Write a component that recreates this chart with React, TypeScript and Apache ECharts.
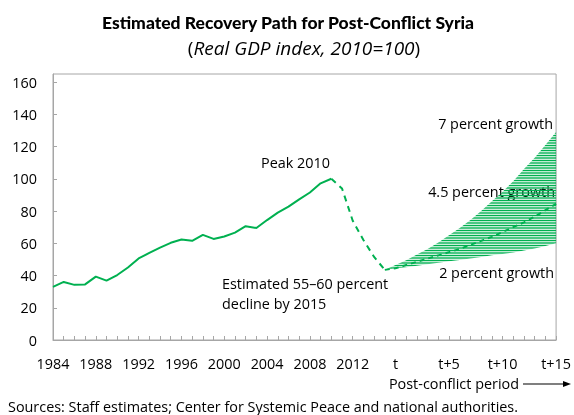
import React, { useEffect, useRef } from "react";
import * as echarts from "echarts";

const histYears: string[] = [];
for (let y = 1984; y <= 2015; y++) histYears.push(String(y));
const postLabels = ["t", "t+1", "t+2", "t+3", "t+4", "t+5", "t+6", "t+7", "t+8", "t+9", "t+10", "t+11", "t+12", "t+13", "t+14", "t+15"];
const categories = [...histYears, ...postLabels];
const shownLabels = ["1984", "1988", "1992", "1996", "2000", "2004", "2008", "2012", "t", "t+5", "t+10", "t+15"];

// Real GDP index, 1984–2010 (actual)
const historical = [33, 36, 34.2, 34.5, 39.3, 36.8, 40.3, 45, 50.6, 54, 57.3, 60.3, 62.3, 61.5, 65.2, 62.7, 64.2, 66.6, 70.6, 69.5, 74.4, 79, 82.7, 87.2, 91.5, 97.2, 100];
// Estimated decline, 2010–2015
const decline = [100, 94, 74, 62, 51.5, 43.5];
// Recovery scenarios, 2015 .. t+15
const growth2 = [43.5, 44.3, 45.2, 46.1, 47, 47.9, 48.8, 49.6, 50.5, 51.5, 52.5, 53.4, 54.3, 55.5, 56.8, 58.3, 60];
const growth45 = [43.5, 44.5, 46.5, 48.5, 50.5, 52.5, 54.5, 56.5, 59, 61.5, 64, 67, 70, 73, 76.5, 80.5, 84.5];
const growth7 = [43.5, 46.5, 49.5, 53, 56.5, 60.5, 65, 69.5, 74.5, 80, 86, 92, 98.5, 106, 113, 121, 129];

const GREEN = "#00b050";
const FONT = "'Open Sans', 'Noto Sans', sans-serif";
const TITLE_FONT = "Lato, 'Open Sans', sans-serif";
const FS = 14.4;

function pad(values: number[], start: number): (number | null)[] {
  const out: (number | null)[] = categories.map(() => null);
  values.forEach((v, i) => (out[start + i] = v));
  return out;
}

const patternSvg =
  "<svg xmlns='http://www.w3.org/2000/svg' width='4' height='5'>" +
  "<rect x='0' y='0' width='4' height='1' fill='#00b050'/>" +
  "<rect x='0' y='1' width='4' height='1' fill='#00b050' fill-opacity='0.25'/>" +
  "<rect x='0' y='2' width='4' height='1' fill='#00b050' fill-opacity='0.7'/>" +
  "<rect x='0' y='3' width='4' height='1' fill='#00b050' fill-opacity='0.7'/>" +
  "<rect x='0' y='4' width='4' height='1' fill='#00b050' fill-opacity='0.2'/>" +
  "</svg>";
const patternUrl = "data:image/svg+xml;charset=utf-8," + encodeURIComponent(patternSvg);

function label(text: string, x: number, y: number, align: string = "left") {
  return {
    type: "text", x, y,
    style: { text, fontSize: FS, fontFamily: FONT, fill: "#000", align, verticalAlign: "middle" },
  };
}

export default function App() {
  const ref = useRef<HTMLDivElement>(null);
  useEffect(() => {
    if (!ref.current) return;
    const chart = echarts.init(ref.current, null, { renderer: "svg" });
    const projStart = histYears.indexOf("2015");
    const bandDiff = growth7.map((v, i) => +(v - growth2[i]).toFixed(2));
    chart.setOption({
      animation: false,
      textStyle: { fontFamily: FONT },
      grid: {
        left: 53, right: 16, top: 74, bottom: 75,
        show: true, borderColor: "#a6a6a6", borderWidth: 1, backgroundColor: "transparent",
      },
      xAxis: {
        type: "category",
        data: categories,
        boundaryGap: false,
        axisLine: { lineStyle: { color: "#a6a6a6" } },
        axisTick: { inside: true, length: 4, interval: 0, lineStyle: { color: "#a6a6a6" } },
        axisLabel: {
          interval: (_i: number, v: string) => shownLabels.includes(v),
          color: "#000", fontSize: FS, fontFamily: FONT, margin: 16,
        },
        splitLine: { show: false },
      },
      yAxis: {
        type: "value",
        min: 0, max: 165, interval: 20,
        axisLine: { show: true, lineStyle: { color: "#a6a6a6" } },
        axisTick: { show: true, inside: true, length: 4, lineStyle: { color: "#a6a6a6" } },
        axisLabel: { color: "#000", fontSize: FS, fontFamily: FONT, margin: 16, showMaxLabel: false },
        splitLine: { show: false },
      },
      series: [
        {
          name: "Historical", type: "line", data: pad(historical, 0),
          symbol: "none", lineStyle: { color: GREEN, width: 2 }, z: 5,
        },
        {
          name: "Estimated decline", type: "line", data: pad(decline, histYears.indexOf("2010")),
          symbol: "none", lineStyle: { color: GREEN, width: 2, type: [6, 5] }, z: 5,
        },
        {
          name: "2 percent growth", type: "line", data: pad(growth2, projStart), stack: "band",
          symbol: "none", lineStyle: { width: 0, opacity: 0 },
        },
        {
          name: "7 percent growth", type: "line", data: pad(bandDiff, projStart), stack: "band",
          symbol: "none", lineStyle: { width: 0, opacity: 0 },
          areaStyle: {
            opacity: 1,
            color: { image: patternUrl, repeat: "repeat", imageWidth: 4, imageHeight: 5 } as any,
          },
        },
        {
          name: "4.5 percent growth", type: "line", data: pad(growth45, projStart),
          symbol: "none", lineStyle: { color: GREEN, width: 2, type: [5, 4] }, z: 5,
        },
      ],
      graphic: [
        {
          type: "text", x: 288, y: 22,
          style: {
            text: "Estimated Recovery Path for Post-Conflict Syria",
            fontSize: 17.5, fontWeight: 900, fontFamily: TITLE_FONT, fill: "#000",
            align: "center", verticalAlign: "middle",
          },
        },
        {
          type: "text", x: 304, y: 48,
          style: {
            text: "({i|Real GDP index, 2010=100})",
            fontSize: 19, fontFamily: FONT, fill: "#000",
            align: "center", verticalAlign: "middle",
            rich: { i: { fontStyle: "italic", fontSize: 19, fontFamily: FONT, fill: "#000" } },
          } as any,
        },
        label("Peak 2010", 261, 162),
        label("Estimated 55\u201360 percent", 222, 283),
        label("decline by 2015", 222, 303),
        label("7 percent growth", 553, 123, "right"),
        label("4.5 percent growth", 555, 191, "right"),
        label("2 percent growth", 554, 272, "right"),
        label("Post-conflict period", 519, 383, "right"),
        { type: "line", shape: { x1: 523, y1: 384, x2: 566, y2: 384 }, style: { stroke: "#000", lineWidth: 1.2 } },
        { type: "polygon", shape: { points: [[571, 384], [563, 381], [563, 387]] }, style: { fill: "#000" } },
        label("Sources: Staff estimates; Center for Systemic Peace and national authorities.", 8, 406),
      ],
    });
    return () => chart.dispose();
  }, []);
  return <div ref={ref} style={{ position: "fixed", left: 0, top: 0, width: 574, height: 415 }} />;
}
